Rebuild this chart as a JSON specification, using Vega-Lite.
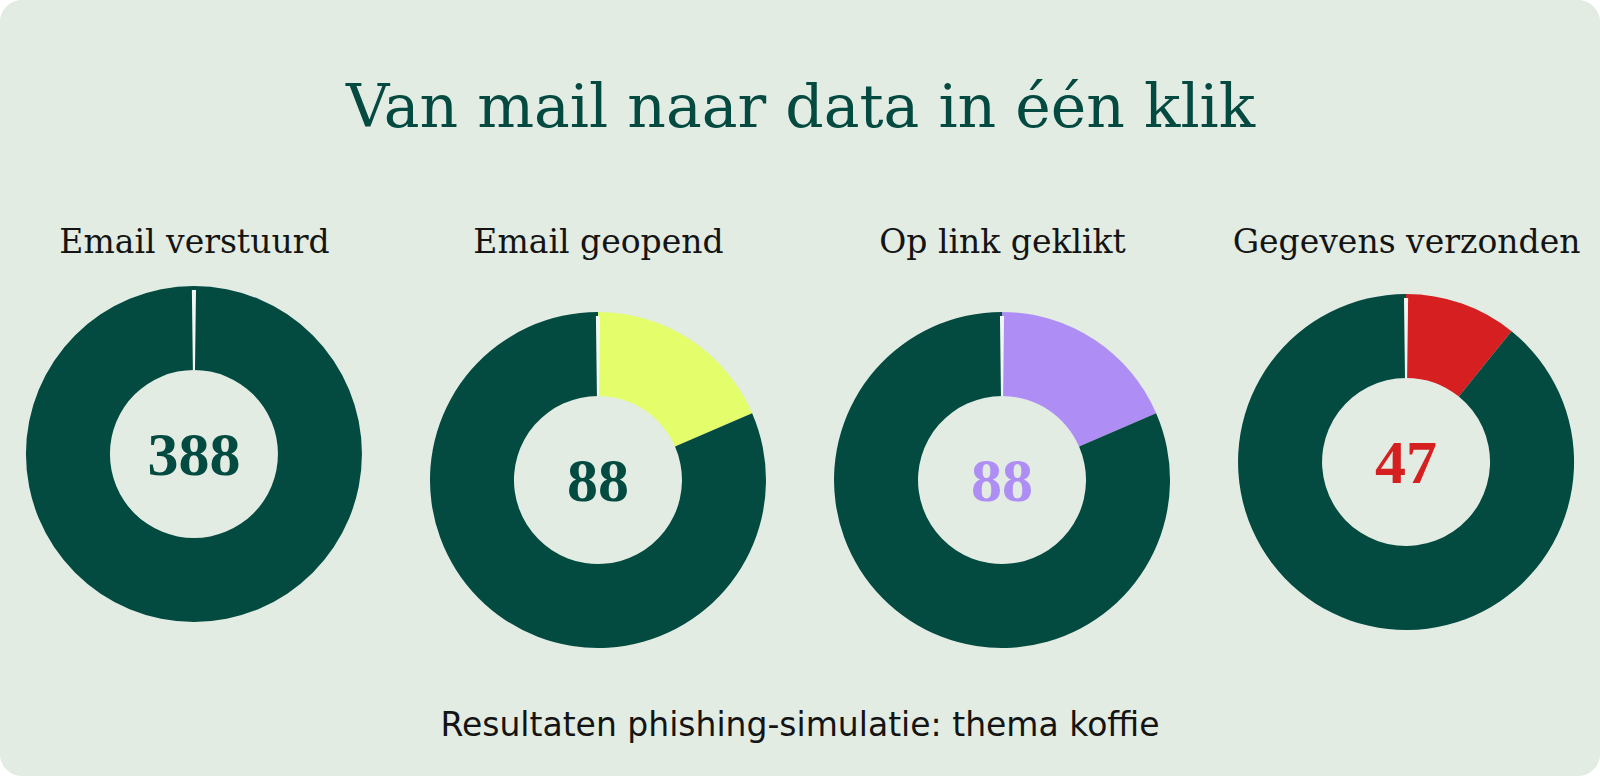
{
  "$schema": "https://vega.github.io/schema/vega-lite/v6.json",
  "width": 1600,
  "height": 776,
  "padding": 0,
  "autosize": {"type": "none"},
  "background": "#ffffff",
  "title": {
    "text": "Resultaten phishing-simulatie: thema koffie",
    "orient": "bottom",
    "anchor": "middle",
    "offset": -66,
    "font": "DejaVu Sans",
    "fontSize": 33,
    "fontWeight": "normal",
    "color": "#141414"
  },
  "data": {
    "values": [
      {"stap": "Email verstuurd", "deel": "verstuurd", "aantal": 388},
      {"stap": "Email geopend", "deel": "geopend", "aantal": 88},
      {"stap": "Email geopend", "deel": "verstuurd", "aantal": 388},
      {"stap": "Op link geklikt", "deel": "geklikt", "aantal": 88},
      {"stap": "Op link geklikt", "deel": "verstuurd", "aantal": 388},
      {"stap": "Gegevens verzonden", "deel": "verzonden", "aantal": 47},
      {"stap": "Gegevens verzonden", "deel": "verstuurd", "aantal": 388}
    ]
  },
  "transform": [
    {"stack": "aantal", "groupby": ["stap"], "offset": "normalize", "as": ["t0", "t1"]}
  ],
  "encoding": {
    "x": {
      "field": "stap",
      "type": "nominal",
      "sort": null,
      "scale": {"type": "point", "padding": 0.48},
      "axis": {
        "orient": "top",
        "offset": -256,
        "domain": false,
        "ticks": false,
        "tickSize": 0,
        "grid": false,
        "labelAngle": 0,
        "labelPadding": 4,
        "labelBaseline": "alphabetic",
        "labelLimit": 0,
        "labelFont": "DejaVu Serif",
        "labelFontSize": 33,
        "labelColor": "#141414",
        "title": "Van mail naar data in één klik",
        "titleFont": "DejaVu Serif",
        "titleFontSize": 60,
        "titleFontWeight": 500,
        "titleColor": "#054a41",
        "titlePadding": 87
      }
    }
  },
  "layer": [
    {
      "mark": {
        "type": "arc",
        "outerRadius": 168,
        "innerRadius": 84,
        "yOffset": {"expr": "datum.stap == 'Email verstuurd' ? 66 : datum.stap == 'Gegevens verzonden' ? 74 : 92"}
      },
      "encoding": {
        "theta": {"field": "t0", "type": "quantitative", "scale": {"domain": [0, 1], "range": [0, 6.283185]}},
        "theta2": {"field": "t1"},
        "color": {
          "field": "deel",
          "type": "nominal",
          "scale": {
            "domain": ["verstuurd", "geopend", "geklikt", "verzonden"],
            "range": ["#034a41", "#e3fd6b", "#ae8ef5", "#d51f20"]
          },
          "legend": null
        }
      }
    },
    {
      "transform": [{"filter": "datum.t0 == 0"}],
      "mark": {
        "type": "arc",
        "outerRadius": 164,
        "innerRadius": 84,
        "color": "#f3f7f2",
        "yOffset": {"expr": "datum.stap == 'Email verstuurd' ? 66 : datum.stap == 'Gegevens verzonden' ? 74 : 92"}
      },
      "encoding": {
        "theta": {"datum": -0.002, "type": "quantitative"},
        "theta2": {"datum": 0.002}
      }
    },
    {
      "transform": [{"filter": "datum.t0 == 0"}],
      "mark": {
        "type": "text",
        "font": "Liberation Serif",
        "fontSize": 62,
        "fontWeight": "bold",
        "baseline": "middle",
        "yOffset": {"expr": "datum.stap == 'Email verstuurd' ? 68 : datum.stap == 'Gegevens verzonden' ? 76 : 94"}
      },
      "encoding": {
        "text": {"field": "aantal", "type": "quantitative"},
        "color": {
          "condition": [
            {"test": "datum.deel == 'geklikt'", "value": "#ae8ef5"},
            {"test": "datum.deel == 'verzonden'", "value": "#d51f20"}
          ],
          "value": "#034a41"
        }
      }
    }
  ],
  "config": {
    "view": {"fill": "#e2ece2", "stroke": null, "cornerRadius": 22}
  }
}
